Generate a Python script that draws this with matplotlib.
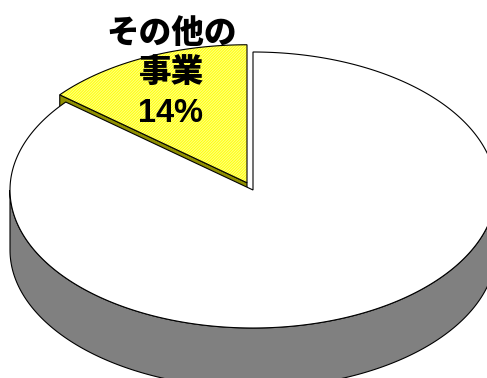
import matplotlib; matplotlib.use('Agg')
import numpy as np
from matplotlib import pyplot as plt
from matplotlib.patches import Polygon

plt.rcParams['font.family'] = ['Noto Sans CJK JP', 'DejaVu Sans']
plt.rcParams['hatch.linewidth'] = 0.8

labels = ['', 'その他の\n事業']
values = [86, 14]
face_colors = ['#ffffff', '#ffff00']
side_colors = ['#808080', '#8f8f00']
explode = [0.0, 0.058]

# pie geometry, in pixels
cx, cy = 253, 190
rx, ry = 243, 138
depth = 60
start = 90.0   # the small slice goes counter-clockwise from 12 o'clock


def arc(x0, y0, a0, a1, dz=0, n=200):
    t = np.radians(np.linspace(a0, a1, n))
    return np.column_stack([x0 + rx * np.cos(t), y0 - ry * np.sin(t) + dz])


fig = plt.figure(figsize=(4.87, 3.78), dpi=100)
ax = fig.add_axes([0, 0, 1, 1])
ax.set_xlim(0, 487)
ax.set_ylim(378, 0)
ax.axis('off')

total = float(sum(values))
spans = [v / total * 360 for v in values]
# slice angles: last slice starts at 12 o'clock, the rest follow on
a_small0 = start
a_small1 = start + spans[1]
angles = [(a_small1, a_small1 + spans[0]), (a_small0, a_small1)]

# big slice: front side wall
a0, a1 = angles[0]
lo, hi = max(a0, 180), min(a1, 360)
top = arc(cx, cy, lo, hi)
bot = arc(cx, cy, hi, lo, dz=depth)
ax.add_patch(Polygon(np.vstack([top, bot]), closed=True, fc=side_colors[0],
                     ec='black', lw=0.8, zorder=1))

# small exploded slice
b0, b1 = angles[1]
mid = np.radians((b0 + b1) / 2)
ox = cx + explode[1] * rx * np.cos(mid)
oy = cy - explode[1] * ry * np.sin(mid)
edge = np.array([[ox, oy], arc(ox, oy, b1, b1, n=1)[0]])
ax.add_patch(Polygon(np.vstack([edge, edge[::-1] + [0, depth]]), closed=True,
                     fc=side_colors[1], ec='black', lw=0.8, zorder=2))
small_top = np.vstack([[ox, oy], arc(ox, oy, b0, b1)])
ax.add_patch(Polygon(small_top, closed=True, fc=face_colors[1], ec='#ffff80',
                     lw=0, hatch='////////////', zorder=3))
ax.add_patch(Polygon(small_top, closed=True, fill=False, ec='black',
                     lw=0.8, zorder=3.5))

# big slice: top face
big_top = np.vstack([[cx, cy], arc(cx, cy, a0, a1, n=400)])
ax.add_patch(Polygon(big_top, closed=True, fc=face_colors[0], ec='black',
                     lw=0.8, zorder=4))

# data label for the small slice
ax.text(172, 53, labels[1], ha='center', va='center', fontsize=23.5,
        fontweight='heavy', linespacing=1.2, zorder=6)
ax.text(171, 113, f'{values[1]:.0f}%', ha='center', va='center',
        fontsize=23.5, fontweight='bold', family=['Liberation Sans'], zorder=6)

fig.savefig('out.png', dpi=100)
